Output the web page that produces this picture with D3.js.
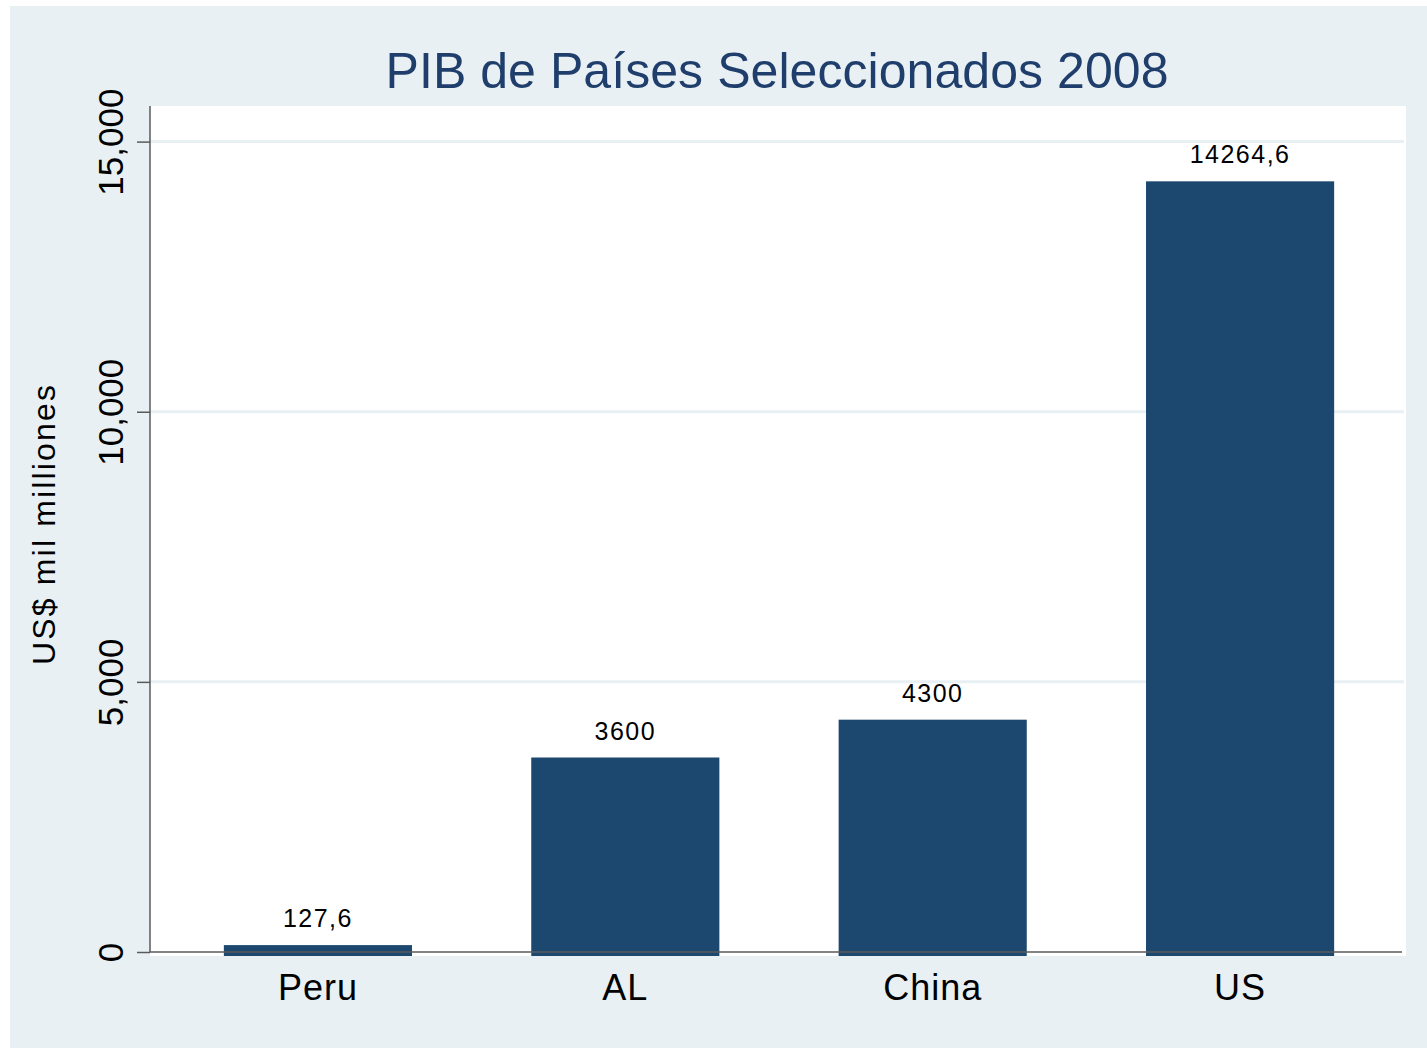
<!DOCTYPE html>
<html>
<head>
<meta charset="utf-8">
<script src="https://cdn.jsdelivr.net/npm/d3@7"></script>
<style>
  body { margin: 0; background: #fff; }
  text { font-family: "Liberation Sans", Arial, sans-serif; }
</style>
</head>
<body>
<div id="chart"></div>
<script>
// data
const countries = ["Peru", "AL", "China", "US"];
const gdp = [127.6, 3600, 4300, 14264.6];
const gdpLabels = ["127,6", "3600", "4300", "14264,6"];
const yTicks = [0, 5000, 10000, 15000];

const width = 1427, height = 1049;
const plot = { left: 150, right: 1406, top: 106, bottom: 956 };

const svg = d3.select("#chart")
  .append("svg")
  .attr("width", width)
  .attr("height", height);

// outer light background (thin white edge round it)
svg.append("rect")
  .attr("x", 10).attr("y", 6)
  .attr("width", width - 10).attr("height", height - 7)
  .attr("fill", "#e9f0f3");

// white plot region
svg.append("rect")
  .attr("x", plot.left).attr("y", plot.top)
  .attr("width", plot.right - plot.left).attr("height", plot.bottom - plot.top)
  .attr("fill", "#fff");

const x = d3.scaleBand()
  .domain(countries)
  .range([plot.left + 1, plot.right + 1])
  .paddingInner(0.388)
  .paddingOuter(0.237);

const y = d3.scaleLinear()
  .domain([0, 15000])
  .range([952, 141.6]);

// grid lines
svg.append("g")
  .selectAll("line")
  .data(yTicks.filter(d => d > 0))
  .enter()
  .append("line")
  .attr("x1", plot.left).attr("x2", plot.right - 2)
  .attr("y1", d => y(d)).attr("y2", d => y(d))
  .attr("stroke", "#e9f0f3")
  .attr("stroke-width", 3);

// bars, a little past the zero line like the original
svg.append("g")
  .selectAll("rect")
  .data(gdp)
  .enter()
  .append("rect")
  .attr("x", (d, i) => x(countries[i]))
  .attr("width", x.bandwidth())
  .attr("y", d => y(d))
  .attr("height", d => y(0) - y(d) + 4)
  .attr("fill", "#1c476f");

// value labels
svg.append("g")
  .selectAll("text")
  .data(gdp)
  .enter()
  .append("text")
  .attr("x", (d, i) => x(countries[i]) + x.bandwidth() / 2)
  .attr("y", d => y(d) - 18)
  .attr("text-anchor", "middle")
  .attr("font-size", 25)
  .attr("letter-spacing", 1.5)
  .attr("fill", "#000")
  .text((d, i) => gdpLabels[i]);

// y axis
const yAxis = svg.append("g")
  .attr("transform", "translate(" + plot.left + ",0)")
  .call(d3.axisLeft(y).tickValues(yTicks).tickSize(13).tickFormat(d3.format(",")));

yAxis.select(".domain")
  .attr("d", "M0," + plot.top + "V" + y(0))
  .attr("stroke", "#5a5a5a")
  .attr("stroke-width", 1.5);
yAxis.selectAll(".tick line")
  .attr("stroke", "#5a5a5a")
  .attr("stroke-width", 1.5);
yAxis.selectAll(".tick text")
  .attr("x", null).attr("dy", null)
  .attr("transform", "translate(-27,0) rotate(-90)")
  .attr("text-anchor", "middle")
  .attr("font-size", 35)
  .attr("font-family", "Liberation Sans, Arial, sans-serif")
  .attr("fill", "#000");

// x axis
const xAxis = svg.append("g")
  .attr("transform", "translate(0," + y(0) + ")")
  .call(d3.axisBottom(x).tickSize(0));

xAxis.select(".domain")
  .attr("d", "M" + plot.left + ",0H" + (plot.right - 4))
  .attr("stroke", "#5a5a5a")
  .attr("stroke-width", 1.5);
xAxis.selectAll(".tick text")
  .attr("y", 48).attr("dy", null)
  .attr("font-size", 36)
  .attr("font-family", "Liberation Sans, Arial, sans-serif")
  .attr("letter-spacing", 1)
  .attr("fill", "#000");

// y axis title
svg.append("text")
  .attr("transform", "translate(55,525) rotate(-90)")
  .attr("text-anchor", "middle")
  .attr("font-size", 32)
  .attr("textLength", 280)
  .attr("lengthAdjust", "spacing")
  .attr("fill", "#000")
  .text("US$ mil milliones");

// title
svg.append("text")
  .attr("x", (plot.left + plot.right) / 2 - 1)
  .attr("y", 88)
  .attr("text-anchor", "middle")
  .attr("font-size", 50)
  .attr("textLength", 783)
  .attr("lengthAdjust", "spacing")
  .attr("fill", "#1f3e6c")
  .text("PIB de Países Seleccionados 2008");
</script>
</body>
</html>
